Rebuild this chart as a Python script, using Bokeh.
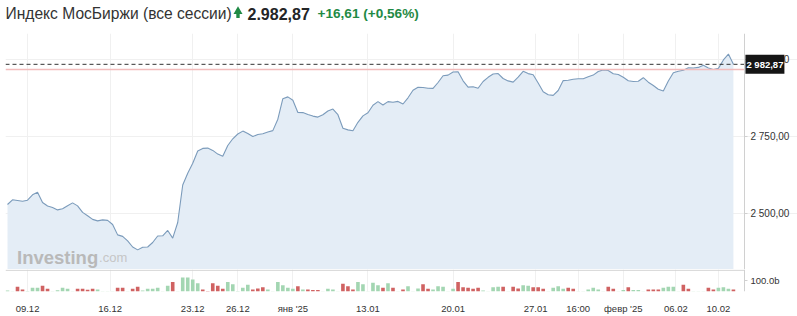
from bokeh.plotting import figure
from bokeh.layouts import column
from bokeh.models import Range1d, FixedTicker, Label, LinearAxis, Grid
from bokeh.core.properties import value
from bokeh.embed import file_html
from bokeh.resources import INLINE

# ---------------- data ----------------
TITLE = "Индекс МосБиржи (все сессии)"
LAST_TEXT = "2.982,87"
CHANGE_TEXT = "+16,61 (+0,56%)"
LAST_PRICE = 2982.87
PREV_CLOSE = 2966.26
LAST_LABEL = "2 982,87"

price = [
    2530.6, 2545.8, 2543.5, 2541.0, 2544.5, 2561.9, 2570.3, 2537.1, 2525.8, 2521.0,
    2513.2, 2517.1, 2526.8, 2535.8, 2526.1, 2505.1, 2494.5, 2482.6, 2477.7, 2481.0,
    2479.3, 2466.1, 2432.6, 2427.7, 2413.2, 2393.5, 2384.2, 2392.9, 2393.5, 2408.0,
    2429.0, 2429.7, 2446.8, 2422.2, 2472.6, 2593.5, 2631.6, 2663.5, 2703.2, 2711.6,
    2712.6, 2705.2, 2693.2, 2686.4, 2721.0, 2742.6, 2758.1, 2767.4, 2759.7, 2749.7,
    2756.5, 2758.7, 2764.2, 2769.0, 2805.8, 2871.9, 2877.8, 2867.1, 2827.4, 2827.1,
    2821.3, 2815.8, 2812.6, 2820.0, 2832.3, 2838.4, 2820.3, 2776.5, 2771.3, 2768.7,
    2795.8, 2816.5, 2826.5, 2851.0, 2862.6, 2851.6, 2862.6, 2860.3, 2863.2, 2854.8,
    2874.8, 2899.0, 2908.7, 2908.1, 2905.5, 2905.2, 2924.2, 2946.1, 2948.1, 2958.1,
    2958.7, 2929.7, 2909.4, 2910.3, 2905.8, 2927.4, 2941.0, 2951.6, 2953.2, 2937.1,
    2929.4, 2925.5, 2941.3, 2960.3, 2952.9, 2949.4, 2922.6, 2894.5, 2884.8, 2882.6,
    2898.4, 2930.3, 2931.6, 2934.5, 2936.1, 2936.1, 2942.6, 2948.1, 2959.7, 2964.9,
    2962.9, 2952.3, 2950.0, 2941.0, 2929.7, 2927.4, 2928.1, 2939.7, 2925.2, 2914.5,
    2902.6, 2896.8, 2929.0, 2955.8, 2960.3, 2963.6, 2971.6, 2971.0, 2972.9, 2980.0,
    2971.0, 2966.1, 2969.7, 2997.1, 3016.1, 2982.87,
]

# volume, billions
volume = [
    9, 3, 41, 18, 5, 32, 32, 50, 23, 3,
    11, 32, 23, 3, 23, 23, 16, 23, 18, 3,
    3, 3, 32, 32, 3, 23, 41, 9, 23, 23,
    32, 3, 50, 82, 3, 123, 123, 105, 73, 18,
    5, 73, 50, 23, 82, 64, 5, 32, 59, 18,
    27, 36, 18, 3, 82, 55, 32, 23, 45, 18,
    18, 14, 14, 3, 23, 18, 3, 68, 45, 18,
    82, 64, 3, 77, 55, 32, 73, 32, 3, 18,
    45, 3, 27, 64, 23, 18, 45, 41, 3, 23,
    82, 36, 32, 23, 32, 9, 3, 36, 41, 41,
    3, 41, 27, 55, 50, 36, 36, 23, 3, 32,
    45, 23, 32, 23, 3, 3, 18, 32, 18, 3,
    41, 23, 3, 14, 36, 14, 14, 3, 18, 18,
    18, 32, 41, 41, 3, 59, 23, 3, 3, 3,
    32, 18, 32, 36, 23, 18,
]

vol_dir = [
    "u", "u", "d", "d", "u", "u", "u", "d", "d", "u",
    "u", "u", "u", "u", "d", "d", "d", "d", "u", "u",
    "u", "u", "d", "d", "u", "d", "d", "u", "u", "u",
    "u", "u", "u", "d", "u", "u", "u", "u", "u", "d",
    "d", "d", "d", "d", "u", "u", "u", "u", "u", "d",
    "d", "d", "u", "u", "u", "u", "u", "u", "d", "u",
    "d", "d", "d", "u", "u", "u", "u", "d", "d", "d",
    "u", "u", "u", "u", "u", "d", "u", "d", "u", "d",
    "u", "u", "u", "d", "d", "u", "u", "u", "u", "u",
    "d", "d", "d", "d", "d", "u", "u", "u", "u", "d",
    "u", "d", "d", "u", "u", "d", "d", "d", "u", "u",
    "u", "u", "d", "d", "u", "u", "u", "u", "u", "u",
    "d", "d", "u", "u", "d", "u", "u", "u", "d", "d",
    "d", "u", "u", "u", "u", "d", "d", "u", "u", "u",
    "d", "d", "u", "u", "u", "d",
]

tick_pos = [4, 20.5, 37, 46, 57, 72, 89, 105.5, 114, 123, 133.5, 142]
tick_labels = ["09.12", "16.12", "23.12", "26.12", "янв '25", "13.01",
               "20.01", "27.01", "16:00", "февр '25", "06.02", "10.02"]
price_ticks = [2500, 2750, 3000]
price_tick_labels = ["2 500,00", "2 750,00", "3 000,00"]
vol_ticks = [100]
vol_tick_labels = ["100.0b"]

# ---------------- styling / layout constants ----------------
FONT = "Liberation Sans"
LINE_C = "#7b9bbb"
FILL_C = "#e4edf6"
UP_C = "#a3d6b2"
DOWN_C = "#d06262"
GRID_C = "#f0f0f0"
AXIS_C = "#d0d0d0"
TXT_C = "#333333"
GREEN = "#1f8a45"
AXIS_X = 147.2          # x-position (index units) of the right-hand price scale
X0, X1 = -0.4, 157.8    # visible x extent

idx = list(range(len(price)))
xr = Range1d(X0, X1)


def style_axis(ax, ticks, labels, size):
    ax.ticker = FixedTicker(ticks=ticks)
    ax.major_label_overrides = dict(zip(ticks, labels))
    ax.axis_line_color = AXIS_C
    ax.major_tick_line_color = AXIS_C
    ax.major_tick_out = 3
    ax.major_tick_in = 0
    ax.minor_tick_line_color = None
    ax.major_label_standoff = 3
    ax.major_label_text_font = FONT
    ax.major_label_text_font_size = size
    ax.major_label_text_color = TXT_C


# ---------------- header ----------------
h = figure(width=797, height=28, x_range=Range1d(5, 797), y_range=Range1d(28, 0),
           toolbar_location=None, output_backend="svg",
           x_axis_type=None, y_axis_type=None,
           min_border=0, min_border_left=5, min_border_right=0,
           min_border_top=0, min_border_bottom=0)
h.grid.visible = False
h.outline_line_color = None
h.text(x=[5], y=[13], text=[TITLE], text_font=value(FONT), text_font_size="15.6px",
       text_color=TXT_C, text_baseline="middle", text_align="left")
# up-arrow icon (head + stem)
h.scatter(x=[237.5], y=[11], marker="triangle", size=9, fill_color=GREEN, line_color=None)
h.rect(x=[237.5], y=[15.2], width=3.4, height=4.4, fill_color=GREEN, line_color=None)
h.text(x=[247], y=[13], text=[LAST_TEXT], text_font=value(FONT), text_font_size="16px",
       text_font_style="bold", text_color="#232526", text_baseline="middle", text_align="left")
h.text(x=[317], y=[13], text=[CHANGE_TEXT], text_font=value(FONT), text_font_size="13.6px",
       text_font_style="bold", text_color=GREEN, text_baseline="middle", text_align="left")

# ---------------- price panel ----------------
p = figure(width=797, height=241, x_range=xr, y_range=Range1d(2320.9, 3082.3),
           toolbar_location=None, output_backend="svg",
           x_axis_location=None, y_axis_location=None,
           min_border_left=5, min_border_right=0, min_border_top=5, min_border_bottom=0)
p.outline_line_color = None
p.grid.visible = False
p.add_layout(Grid(dimension=0, ticker=FixedTicker(ticks=tick_pos), grid_line_color=GRID_C))
p.add_layout(Grid(dimension=1, ticker=FixedTicker(ticks=price_ticks), grid_line_color=GRID_C))

ya = LinearAxis(fixed_location=AXIS_X)
style_axis(ya, price_ticks, price_tick_labels, "10px")
p.add_layout(ya, "right")

p.varea(x=idx, y1=p.y_range.start, y2=price, fill_color=FILL_C, fill_alpha=1)
p.line(x=idx, y=price, line_color=LINE_C, line_width=1.1)

p.line(x=[X0, AXIS_X], y=[PREV_CLOSE, PREV_CLOSE], line_color="#f2bcbc", line_width=1.5)
p.line(x=[X0, AXIS_X], y=[LAST_PRICE, LAST_PRICE], line_color="#333333",
       line_width=1, line_dash="4 3")

p.add_layout(Label(x=1.9, y=2358.7, text="Investing", text_font=FONT,
                   text_font_size="18.5px", text_font_style="bold", text_color="#b9b9b9",
                   text_baseline="alphabetic", text_align="left"))
p.add_layout(Label(x=18.3, y=2358.7, text=".com", text_font=FONT,
                   text_font_size="13px", text_color="#c6c6c6",
                   text_baseline="alphabetic", text_align="left"))

p.add_layout(Label(x=AXIS_X, y=LAST_PRICE, text=LAST_LABEL, text_font=FONT,
                   text_font_size="9.5px", text_font_style="bold", text_color="white",
                   background_fill_color="#151515", x_offset=1,
                   text_baseline="middle", text_align="left", padding=(1, 4)))

# ---------------- volume panel ----------------
v = figure(width=797, height=47, x_range=xr, y_range=Range1d(0, 191.8),
           toolbar_location=None, output_backend="svg",
           y_axis_location=None,
           min_border_left=5, min_border_right=0, min_border_top=0, min_border_bottom=19)
v.outline_line_color = None
v.grid.visible = False
v.add_layout(Grid(dimension=0, ticker=FixedTicker(ticks=tick_pos), grid_line_color=GRID_C))

colors = [UP_C if d == "u" else DOWN_C for d in vol_dir]
v.vbar(x=idx, top=volume, width=0.72, fill_color=colors, line_color=None)
v.line(x=[X0, AXIS_X], y=[185, 185], line_color=AXIS_C, line_width=1)

xa = v.xaxis[0]
xa.ticker = FixedTicker(ticks=tick_pos)
xa.major_label_overrides = dict(zip(tick_pos, tick_labels))
xa.axis_line_color = None
xa.major_tick_line_color = None
xa.minor_tick_line_color = None
xa.major_label_standoff = 5
xa.major_label_text_font = FONT
xa.major_label_text_font_size = "9.5px"
xa.major_label_text_color = TXT_C

vy = LinearAxis(fixed_location=AXIS_X)
style_axis(vy, vol_ticks, vol_tick_labels, "9.5px")
v.add_layout(vy, "right")

layout = column(h, p, v, spacing=0)
open("out.html", "w").write(file_html(layout, INLINE))
